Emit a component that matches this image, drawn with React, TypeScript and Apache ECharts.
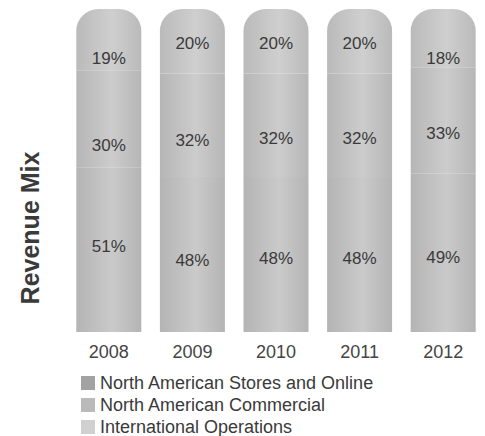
import React, { useEffect, useRef } from "react";
import * as echarts from "echarts";

const years = ["2008", "2009", "2010", "2011", "2012"];
const storesOnline = [51, 48, 48, 48, 49];
const commercial = [30, 32, 32, 32, 33];
const international = [19, 20, 20, 20, 18];
const seriesNames = [
  "North American Stores and Online",
  "North American Commercial",
  "International Operations",
];

// label vertical nudges (style only)
const nudgeBottom = [-3, 6, 4, 4, 5];
const nudgeMiddle = [27, 15, 13, 13, 13];
const nudgeTop = [19, 2, 2, 2, 20];

const grad = (edge: string, mid: string) =>
  new echarts.graphic.LinearGradient(0, 0, 1, 0, [
    { offset: 0, color: edge },
    { offset: 0.55, color: mid },
    { offset: 1, color: edge },
  ]);

export default function App() {
  const ref = useRef<HTMLDivElement>(null);
  useEffect(() => {
    if (!ref.current) return;
    const chart = echarts.init(ref.current, null, { renderer: "svg" });
    const font = "'Liberation Sans', Arial, sans-serif";
    const label = {
      show: true,
      position: "inside" as const,
      formatter: "{c}%",
      color: "#3a3a3a",
      fontSize: 17,
      fontFamily: font,
    };
    const withNudge = (vals: number[], nudges: number[]) =>
      vals.map((v, i) => ({ value: v, label: { offset: [0, nudges[i]] } }));
    chart.setOption({
      animation: false,
      backgroundColor: "#ffffff",
      grid: { left: 67, width: 425, top: 9, bottom: 104 },
      graphic: [
        {
          type: "text",
          x: 30,
          y: 228,
          rotation: Math.PI / 2,
          style: {
            text: "Revenue Mix",
            fontSize: 25,
            fontWeight: "bold",
            fontFamily: font,
            fill: "#3a3a3a",
            align: "center",
            verticalAlign: "middle",
          },
        },
      ],
      legend: {
        orient: "vertical",
        left: 81,
        top: 374,
        height: 90,
        padding: 0,
        itemWidth: 14,
        itemHeight: 14,
        itemGap: 4,
        icon: "rect",
        textStyle: {
          color: "#3a3a3a",
          fontSize: 18,
          fontFamily: font,
          lineHeight: 18,
          padding: [0, 0, 0, 0],
        },
        data: [
          { name: seriesNames[0], itemStyle: { color: "#a2a2a2" } },
          { name: seriesNames[1], itemStyle: { color: "#bababa" } },
          { name: seriesNames[2], itemStyle: { color: "#d0d0d0" } },
        ],
      },
      xAxis: {
        type: "category",
        data: years,
        axisLine: { show: false },
        axisTick: { show: false },
        axisLabel: { color: "#444", fontSize: 18, fontFamily: font, margin: 11 },
      },
      yAxis: {
        type: "value",
        min: 0,
        max: 100,
        show: false,
        splitLine: { show: false },
      },
      series: [
        {
          name: seriesNames[0],
          type: "bar",
          stack: "mix",
          barWidth: 65,
          data: withNudge(storesOnline, nudgeBottom),
          itemStyle: { color: grad("#b4b4b4", "#cacaca") },
          label,
        },
        {
          name: seriesNames[1],
          type: "bar",
          stack: "mix",
          data: withNudge(commercial, nudgeMiddle),
          itemStyle: { color: grad("#b6b6b6", "#cccccc") },
          label,
        },
        {
          name: seriesNames[2],
          type: "bar",
          stack: "mix",
          data: withNudge(international, nudgeTop),
          itemStyle: { color: grad("#bababa", "#cfcfcf"), borderRadius: [22, 22, 0, 0] },
          label,
        },
      ],
    });
    return () => chart.dispose();
  }, []);
  return (
    <div
      ref={ref}
      style={{ position: "fixed", left: 0, top: 0, width: 485, height: 436 }}
    />
  );
}
